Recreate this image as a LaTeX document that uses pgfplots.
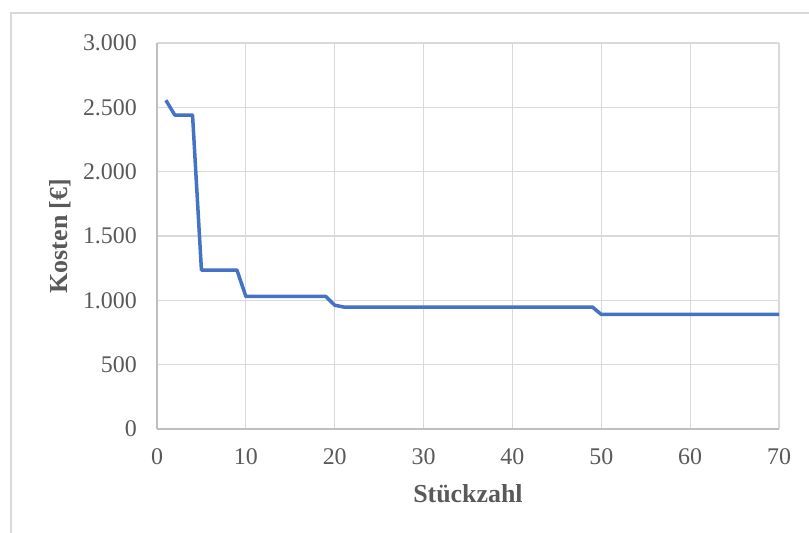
\documentclass[border=0pt]{standalone}
\usepackage{fontspec}
\setmainfont{Liberation Serif}
\usepackage{pgfplots}
\pgfplotsset{compat=1.18}

\definecolor{linieblau}{HTML}{4472C4}
\definecolor{gitter}{HTML}{D9D9D9}
\definecolor{achse}{HTML}{BFBFBF}
\definecolor{schrift}{HTML}{595959}

\begin{document}
\begin{tikzpicture}[x=1bp,y=1bp]
  % Seitenrahmen (809 x 533 px)
  \useasboundingbox (0,0) rectangle (809,533);
  \draw[gitter, line width=1.3bp] (11,0) -- (11,520) -- (809,520);

  \begin{axis}[
      at={(157bp,104bp)}, anchor=south west,
      scale only axis,
      width=622bp, height=386bp,
      xmin=0, xmax=70, ymin=0, ymax=3000,
      xtick distance=10, ytick distance=500,
      axis x line*=bottom, axis y line*=left,
      axis line style={draw=achse, line width=1.3bp},
      major tick length=0pt,
      grid=major,
      major grid style={draw=gitter, line width=1.2bp},
      /pgf/number format/.cd, 1000 sep={.}, assume math mode=true,
      /pgfplots/.cd,
      tick label style={font=\fontsize{24}{28}\selectfont, text=schrift, inner sep=0pt},
      yticklabel style={xshift=-20bp},
      xticklabel style={yshift=-19bp},
      xlabel={Stückzahl},
      ylabel={Kosten [€]},
      every axis x label/.style={at={(axis description cs:0.5,-0.168)}, anchor=center,
        font=\fontsize{26}{30}\selectfont\bfseries, text=schrift},
      every axis y label/.style={at={(axis description cs:-0.156,0.5)}, anchor=center, rotate=90,
        font=\fontsize{26}{30}\selectfont\bfseries, text=schrift},
      clip=false,
    ]
    \addplot[linieblau, line width=3.5bp, line join=round] coordinates {
      (1,2555) (2,2440) (3,2440) (4,2440) (5,1235) (6,1235) (7,1235) (8,1235)
      (9,1235) (10,1030) (15,1030) (19,1030) (20,962) (21,948) (30,948)
      (40,948) (49,948) (50,890) (60,890) (70,890)
    };
  \end{axis}
\end{tikzpicture}
\end{document}
